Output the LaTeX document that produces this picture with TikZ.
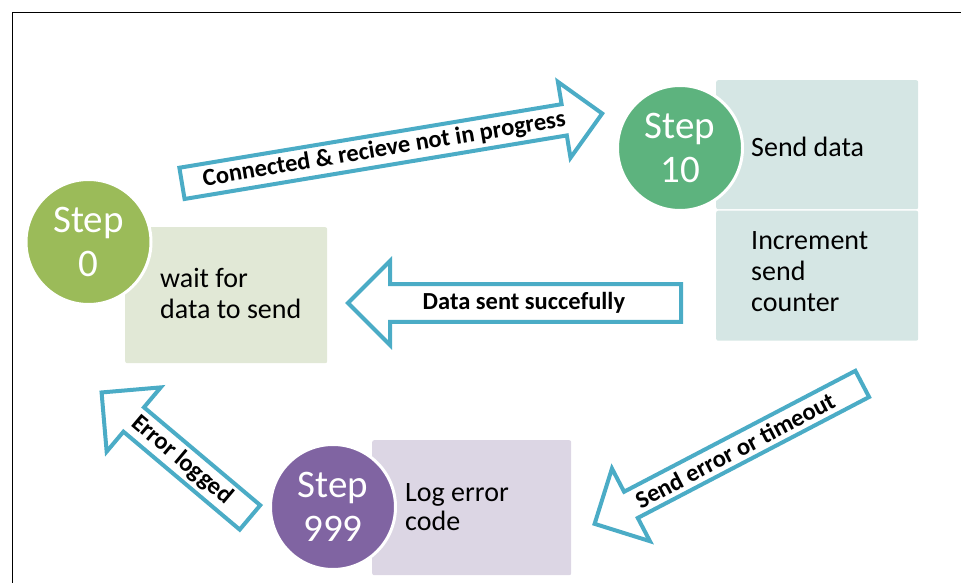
\documentclass[tikz,border=0pt]{standalone}
\usepackage{fontspec}
\setmainfont{Carlito}
\usetikzlibrary{shapes.arrows}
\definecolor{stepzero}{HTML}{9BBB59}
\definecolor{stepten}{HTML}{5DB37E}
\definecolor{stepnine}{HTML}{8064A2}
\definecolor{boxzero}{HTML}{E1E8D6}
\definecolor{boxten}{HTML}{D5E6E4}
\definecolor{boxnine}{HTML}{DCD6E4}
\definecolor{flowblue}{HTML}{4BACC6}
\begin{document}
\begin{tikzpicture}[x=1pt,y=-1pt,
  stepcircle/.style={circle,minimum size=125pt,inner sep=0pt,draw=white,line width=3pt,
    text=white,align=center,font=\fontsize{39}{44}\selectfont},
  actionbox/.style={rectangle,rounded corners=2pt,anchor=north west,inner sep=0pt},
  boxtext/.style={anchor=west,align=left,inner sep=0pt,font=\fontsize{28}{31}\selectfont},
  flow/.style={single arrow,draw=flowblue,fill=white,line width=4pt,inner sep=2pt,
    anchor=tail,shape border rotate=180,font=\bfseries\fontsize{24.5}{28}\selectfont}]
\useasboundingbox (0,0) rectangle (961,583);
\draw[line width=1.5pt] (961,12.5) -- (12.5,12.5) -- (12.5,583);

\node[actionbox,fill=boxzero,minimum width=202pt,minimum height=136pt] (box0) at (125,227) {};
\node[actionbox,fill=boxten,minimum width=202pt,minimum height=129pt] (box10a) at (716,80) {};
\node[actionbox,fill=boxten,minimum width=202pt,minimum height=130pt] (box10b) at (716,210.5) {};
\node[actionbox,fill=boxnine,minimum width=199pt,minimum height=135pt] (box999) at (372,440) {};

\node[boxtext] (text0) at (160,293) {wait for\\data to send};
\node[boxtext] (text10a) at (751,147) {Send data};
\node[boxtext] (text10b) at (751,272) {Increment\\send\\counter};
\node[boxtext,font=\fontsize{28}{29}\selectfont] (text999) at (405,507) {Log error\\code};

\node[stepcircle,fill=stepzero] (step0) at (88.5,242) {Step\\0};
\node[stepcircle,fill=stepten] (step10) at (680,148) {Step\\10};
\node[stepcircle,fill=stepnine] (step999) at (333,507) {Step\\999};

\node[flow,shape border rotate=0,rotate=9.44,minimum height=426pt,minimum width=77pt,
  single arrow head extend=21pt] (connected) at (180,183.7) {Connected \& recieve not in progress};
\node[flow,minimum height=333pt,minimum width=84pt,single arrow head extend=18pt]
  (sent) at (683,303) {Data sent succefully};
\node[flow,rotate=27.6,minimum height=302pt,minimum width=82pt,single arrow head extend=22.5pt]
  (error) at (864,383) {Send error or timeout};
\node[flow,rotate=-40.1,minimum height=194pt,minimum width=84pt,single arrow head extend=24pt]
  (logged) at (251.5,518.7) {Error logged};
\end{tikzpicture}
\end{document}
